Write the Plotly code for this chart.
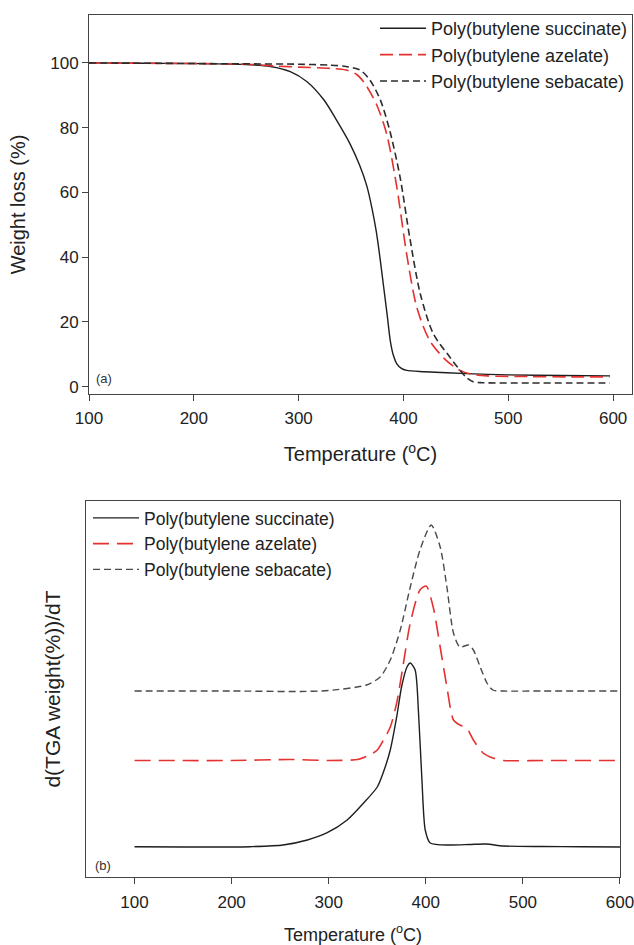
import plotly.graph_objects as go

# ---------------- (a) TGA curves ----------------
pbs_T = [100, 150, 200, 250, 273, 292, 308, 324, 336, 349, 358, 365, 370, 374, 377.5, 381, 384.5, 387.5, 390.5, 393.5, 398, 403, 420, 460, 500, 550, 597]
pbs_W = [100, 99.9, 99.8, 99.5, 98.9, 97.3, 94.2, 88.6, 82.4, 75, 68.5, 62, 55, 48, 40, 31, 22, 14, 9.5, 7.1, 5.6, 5.0, 4.6, 4.0, 3.6, 3.4, 3.3]

pbaz_T = [100, 150, 200, 250, 280, 300, 330, 345, 355, 363, 374.5, 384, 393.6, 403, 412.7, 425, 441, 454, 465, 480, 520, 560, 597]
pbaz_W = [100, 99.9, 99.8, 99.6, 99.0, 98.7, 98.3, 97.8, 96.5, 93.7, 87, 78, 61.7, 41, 24.5, 14.2, 8, 5, 3.8, 3.3, 3.1, 3.0, 3.0]

pbse_T = [100, 150, 200, 250, 300, 330, 345, 358.6, 368, 378, 387, 396.7, 406, 416, 428.5, 444.5, 454, 460, 466.5, 475, 520, 560, 597]
pbse_W = [100, 99.9, 99.8, 99.7, 99.6, 99.3, 98.9, 97.8, 94.7, 88.5, 79, 64.8, 46, 28.7, 16.3, 9, 5, 2.8, 1.5, 1.2, 1.1, 1.1, 1.1]

# ---------------- (b) DTG curves (arbitrary, offset units) ----------------
pbs_T2 = [100, 150, 200, 219, 253, 278, 298, 319, 336, 350, 356, 363.4, 370, 375, 380.6, 384, 389, 392.5, 396, 399.4, 404.5, 425, 445, 462, 480, 520, 560, 600]
pbs_D = [30.3, 30, 30, 30.3, 32, 37, 44, 57, 74, 90, 104, 127, 160, 190, 210, 214, 207, 164, 97, 47, 34, 32, 32.5, 33, 31, 30.5, 30.3, 30]

pbaz_T2 = [100, 200, 260, 300, 330, 340, 350, 356.4, 363.4, 370, 376, 384, 394, 400.4, 407.6, 414.8, 421.7, 428.5, 435, 442, 449, 459, 469, 480, 520, 600]
pbaz_D = [116.5, 116.5, 117.5, 116.5, 117.5, 121, 127, 137, 150, 174, 208, 254, 287, 291, 270, 230, 190, 157, 152, 149, 137, 124, 119, 116.5, 116.5, 116.5]

pbse_T2 = [100, 200, 271, 300, 339, 353, 363.4, 373.7, 384, 394, 405.6, 414.8, 421.7, 428.5, 435, 444, 449, 456, 463, 469, 480, 520, 600]
pbse_D = [186, 186, 185.5, 186.5, 192, 200, 217, 247, 290, 327, 352, 330, 290, 244, 230, 232, 227, 210, 194, 187, 186, 186, 186]

names = ["Poly(butylene succinate)", "Poly(butylene azelate)", "Poly(butylene sebacate)"]
x_ticks = [100, 200, 300, 400, 500, 600]
y_ticks = [0, 20, 40, 60, 80, 100]

BLACK = "#1e1e1e"
RED = "#e5312f"
GRAY = "#2c2c2c"
GRAY2 = "#4a4a4a"
FONT = "Liberation Sans, Arial, sans-serif"

fig = go.Figure()

top = [
    (pbs_T, pbs_W, dict(color=BLACK, width=1.4, dash="solid")),
    (pbaz_T, pbaz_W, dict(color=RED, width=1.6, dash="13px,6px")),
    (pbse_T, pbse_W, dict(color=GRAY, width=1.6, dash="7px,4px")),
]
for i, (xs, ys, ln) in enumerate(top):
    fig.add_trace(go.Scatter(x=xs, y=ys, mode="lines", name=names[i], line=dict(shape="spline", smoothing=0.8, **ln),
                             xaxis="x", yaxis="y", legend="legend"))

bot = [
    (pbs_T2, pbs_D, dict(color=BLACK, width=1.4, dash="solid")),
    (pbaz_T2, pbaz_D, dict(color=RED, width=1.6, dash="16px,8px")),
    (pbse_T2, pbse_D, dict(color=GRAY2, width=1.4, dash="7px,4px")),
]
for i, (xs, ys, ln) in enumerate(bot):
    fig.add_trace(go.Scatter(x=xs, y=ys, mode="lines", name=names[i], line=dict(shape="spline", smoothing=0.7, **ln),
                             xaxis="x2", yaxis="y2", legend="legend2"))

axis_common = dict(showline=True, linecolor="#444", linewidth=1, mirror=True, showgrid=False, zeroline=False,
                   tickcolor="#444", ticklen=6, tickwidth=1)
tickfont = dict(family=FONT, size=17, color="#222")

fig.update_layout(
    width=634, height=945,
    margin=dict(l=86, r=2, t=15, b=68, autoexpand=False),
    paper_bgcolor="white", plot_bgcolor="white",
    font=dict(family=FONT, color="#222"),
    showlegend=True,
    xaxis=dict(domain=[0.0055, 1], range=[100, 618], tickvals=x_ticks, ticks="outside", anchor="y", tickfont=tickfont,
               ticklabelstandoff=3,
               title=dict(text="Temperature (<sup>o</sup>C)", font=dict(family=FONT, size=20, color="#222"), standoff=19),
               **axis_common),
    yaxis=dict(domain=[0.5603, 1], range=[-2.3, 114.8], tickvals=y_ticks, ticks="outside", anchor="x", tickfont=tickfont,
               title=dict(text="Weight loss (%)", font=dict(family=FONT, size=20, color="#222"), standoff=19),
               **axis_common),
    xaxis2=dict(domain=[0, 0.978], range=[50, 600], tickvals=x_ticks, ticks="outside", anchor="y2", tickfont=tickfont,
                ticklabelstandoff=4, ticklabeloverflow="allow",
                title=dict(text="Temperature (<sup>o</sup>C)", font=dict(family=FONT, size=18, color="#222"), standoff=18),
                **axis_common),
    yaxis2=dict(domain=[0, 0.4362], range=[0, 376], showticklabels=False, ticks="", anchor="x2",
                title=dict(text="d(TGA weight(%))/dT", font=dict(family=FONT, size=21, color="#222"), standoff=18),
                **axis_common),
    legend=dict(x=0.5293, y=1.0058, xanchor="left", yanchor="top",
                bgcolor="rgba(0,0,0,0)", font=dict(family=FONT, size=18, color="#222"), itemwidth=46, tracegroupgap=0),
    legend2=dict(x=0.0037, y=0.4374, xanchor="left", yanchor="top",
                 bgcolor="rgba(0,0,0,0)", font=dict(family=FONT, size=17.5, color="#222"), itemwidth=46, tracegroupgap=0),
    annotations=[
        dict(text="(a)", x=105, y=2.6, xref="x", yref="y", xanchor="left", yanchor="middle", showarrow=False,
             font=dict(family=FONT, size=13, color="#333")),
        dict(text="(b)", x=57, y=11, xref="x2", yref="y2", xanchor="left", yanchor="middle", showarrow=False,
             font=dict(family=FONT, size=13, color="#333")),
    ],
)

fig.write_html("out.html", config={"displayModeBar": False},
               post_script="document.body.style.margin='0';document.body.style.overflow='hidden';")
